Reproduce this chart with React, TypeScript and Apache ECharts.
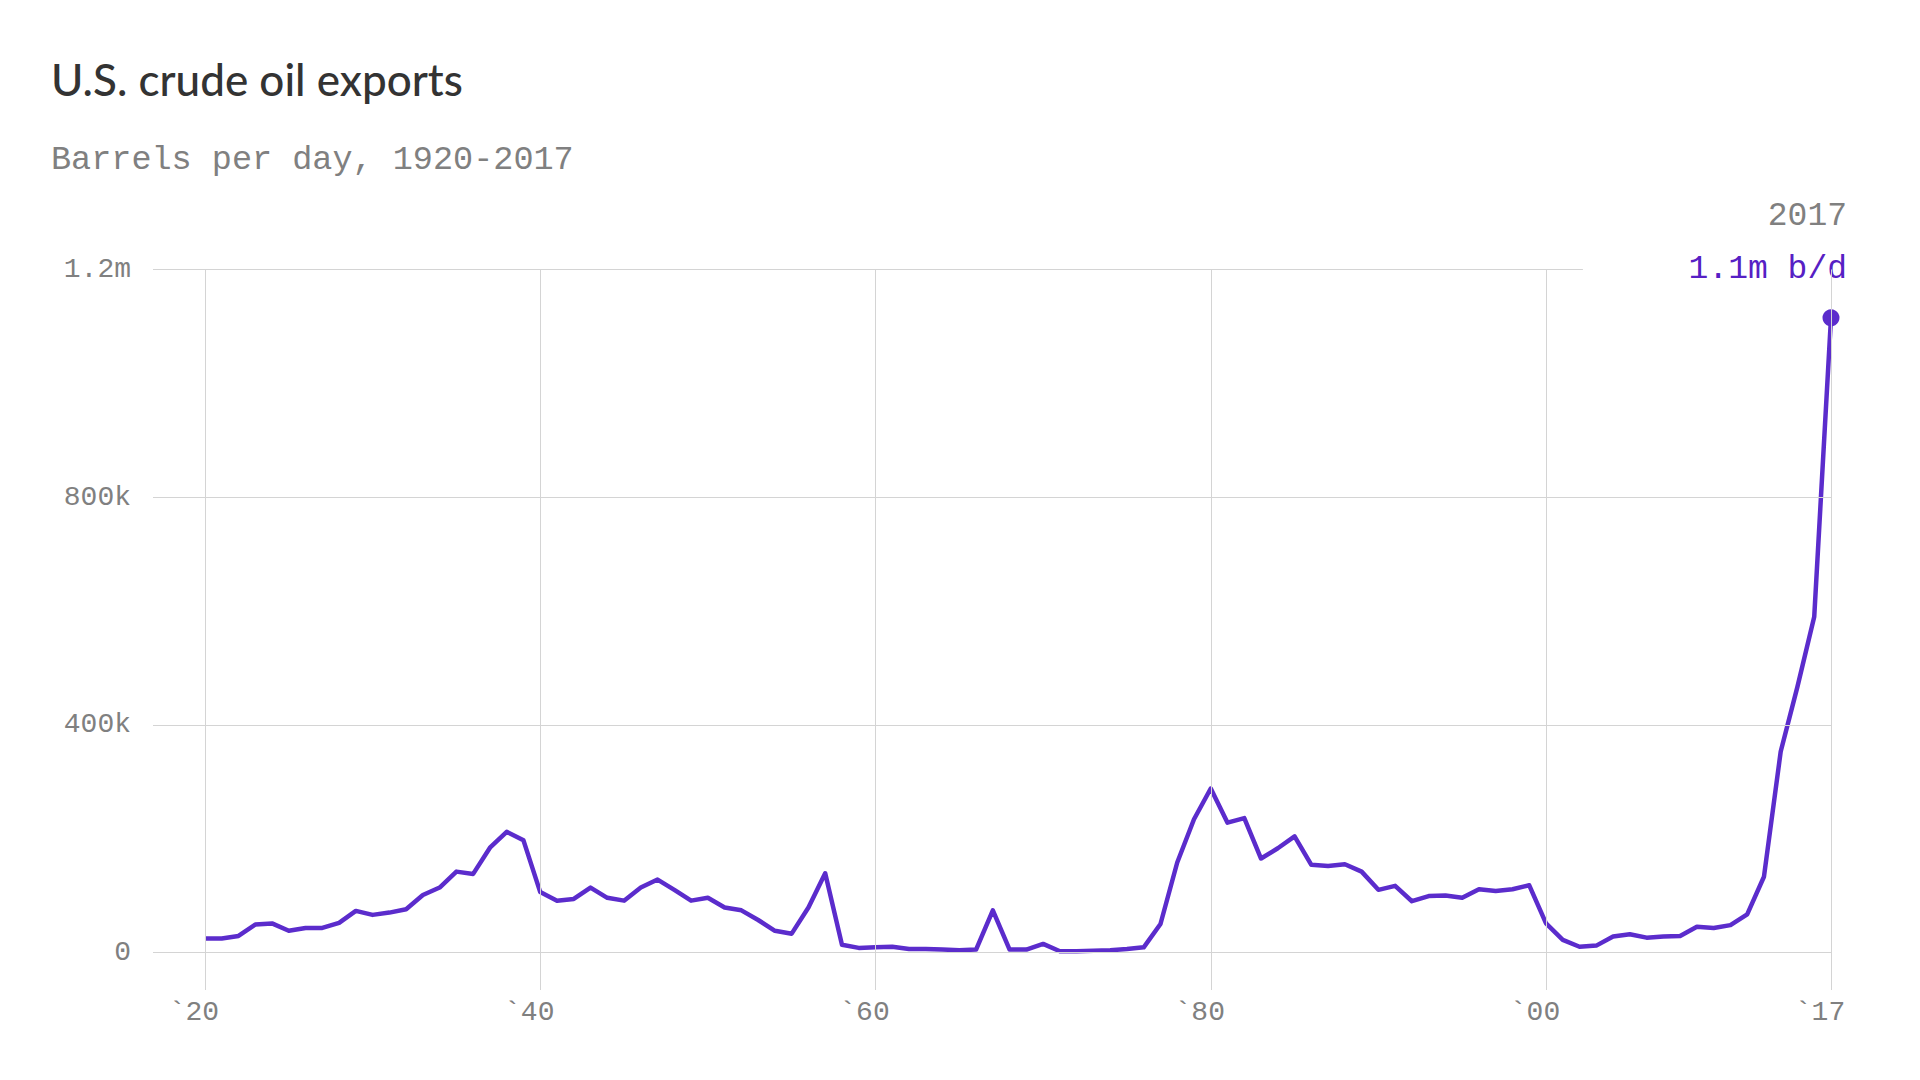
import React, { useEffect, useRef } from "react";
import * as echarts from "echarts";

// U.S. crude oil exports, thousand barrels per day, 1920-2017
const firstYear = 1920;
const exportsKbd = [
  24.6, 24.6, 29, 49, 51, 38, 43, 43, 52, 73, // 1920-1929
  66, 70, 76, 101, 114, 142, 138, 184, 212, 197, // 1930-1939
  106, 91, 94, 114, 96, 91, 114, 128, 110, 91, // 1940-1949
  96, 79, 74, 57, 38, 33, 79, 139, 13.5, 8, // 1950-1959
  9, 10, 6, 6, 5, 4, 5, 74, 5, 5, // 1960-1969
  15, 2, 2, 3, 4, 6, 9, 50, 158, 234, // 1970-1979
  288, 228, 236, 165, 183, 204, 154, 152, 155, 142, // 1980-1989
  110, 117, 90, 99, 100, 96, 111, 108, 111, 118, // 1990-1999
  51, 22, 10, 12, 28, 32, 26, 28, 29, 45, // 2000-2009
  43, 48, 67, 133, 353, 467, 590, 1115, // 2010-2017
];
const years = exportsKbd.map((_, i) => firstYear + i);

const xTickYears = [1920, 1940, 1960, 1980, 2000, 2017];
const xTickLabels = ["`20", "`40", "`60", "`80", "`00", "`17"];
const yTickValues = [0, 400, 800, 1200];
const yTickLabels = ["0", "400k", "800k", "1.2m"];

const titleText = "U.S. crude oil exports";
const subtitleText = "Barrels per day, 1920-2017";
const endYearText = "2017";
const endValueText = "1.1m b/d";

const PURPLE = "#5b2ccc";
const GRAY = "#808080";
const GRID = "#d4d4d4";
const MONO = "'Liberation Mono', 'DejaVu Sans Mono', monospace";

export default function App() {
  const ref = useRef<HTMLDivElement>(null);

  useEffect(() => {
    if (!ref.current) return;
    const chart = echarts.init(ref.current, undefined, { renderer: "svg" });

    const xMin = 1916.9;
    const xMax = 2017;
    const yMin = -66;
    const yMax = 1200;
    const topLineEnd = 2002.2;

    const gridLines: any[] = [];
    yTickValues.forEach((v) => {
      gridLines.push([
        { coord: [xMin, v] },
        { coord: [v === yMax ? topLineEnd : xMax, v] },
      ]);
    });
    xTickYears.forEach((yr) => {
      gridLines.push([{ coord: [yr, yMin] }, { coord: [yr, yMax] }]);
    });

    const lastIdx = exportsKbd.length - 1;

    chart.setOption({
      animation: false,
      backgroundColor: "#ffffff",
      grid: {
        left: 153,
        right: 89,
        top: 269.5,
        bottom: 90,
        containLabel: false,
        outerBoundsMode: "none",
      },
      xAxis: {
        type: "value",
        min: xMin,
        max: xMax,
        splitLine: { show: false },
        axisLine: { show: false },
        axisTick: { show: false },
        axisLabel: {
          customValues: xTickYears,
          formatter: (v: number) => {
            const i = xTickYears.indexOf(Math.round(v));
            return i >= 0 ? xTickLabels[i] : "";
          },
          color: GRAY,
          fontFamily: MONO,
          fontSize: 28,
          margin: 8,
          padding: [0, 22, 0, 0],
        },
      },
      yAxis: {
        type: "value",
        min: yMin,
        max: yMax,
        splitLine: { show: false },
        axisLine: { show: false },
        axisTick: { show: false },
        axisLabel: {
          customValues: yTickValues,
          formatter: (v: number) => {
            const i = yTickValues.indexOf(Math.round(v));
            return i >= 0 ? yTickLabels[i] : "";
          },
          color: GRAY,
          fontFamily: MONO,
          fontSize: 28,
          margin: 22,
          padding: [4, 0, 0, 0],
        },
      },
      series: [
        {
          type: "line",
          data: [],
          silent: true,
          z: 1,
          markLine: {
            silent: true,
            symbol: ["none", "none"],
            label: { show: false },
            lineStyle: { color: GRID, width: 1, type: "solid" },
            emphasis: { disabled: true },
            data: gridLines,
          },
        },
        {
          type: "line",
          data: years.map((y, i) => [y, exportsKbd[i]]),
          showSymbol: false,
          lineStyle: { color: PURPLE, width: 4.5, join: "round" },
          z: 3,
        },
        {
          type: "scatter",
          data: [[years[lastIdx], exportsKbd[lastIdx]]],
          symbolSize: 17,
          itemStyle: { color: PURPLE, opacity: 1 },
          z: 4,
        },
      ],
      graphic: [
        {
          type: "text",
          x: 51,
          y: 79,
          style: {
            text: titleText,
            fontFamily: "Lato, 'Open Sans', sans-serif",
            fontSize: 44,
            fontWeight: 500,
            fill: "#333333",
            verticalAlign: "middle",
            align: "left",
          },
        },
        {
          type: "text",
          x: 51,
          y: 160,
          style: {
            text: subtitleText,
            fontFamily: MONO,
            fontSize: 33.5,
            fill: GRAY,
            verticalAlign: "middle",
            align: "left",
          },
        },
        {
          type: "text",
          x: 1847,
          y: 216,
          style: {
            text: endYearText,
            fontFamily: MONO,
            fontSize: 33,
            fill: GRAY,
            verticalAlign: "middle",
            align: "right",
          },
        },
        {
          type: "text",
          x: 1847,
          y: 269,
          style: {
            text: endValueText,
            fontFamily: MONO,
            fontSize: 33,
            fill: "#5620c4",
            verticalAlign: "middle",
            align: "right",
          },
        },
      ],
    });

    return () => chart.dispose();
  }, []);

  return (
    <div
      ref={ref}
      style={{
        position: "absolute",
        left: 0,
        top: 0,
        width: 1920,
        height: 1080,
        background: "#ffffff",
      }}
    />
  );
}
